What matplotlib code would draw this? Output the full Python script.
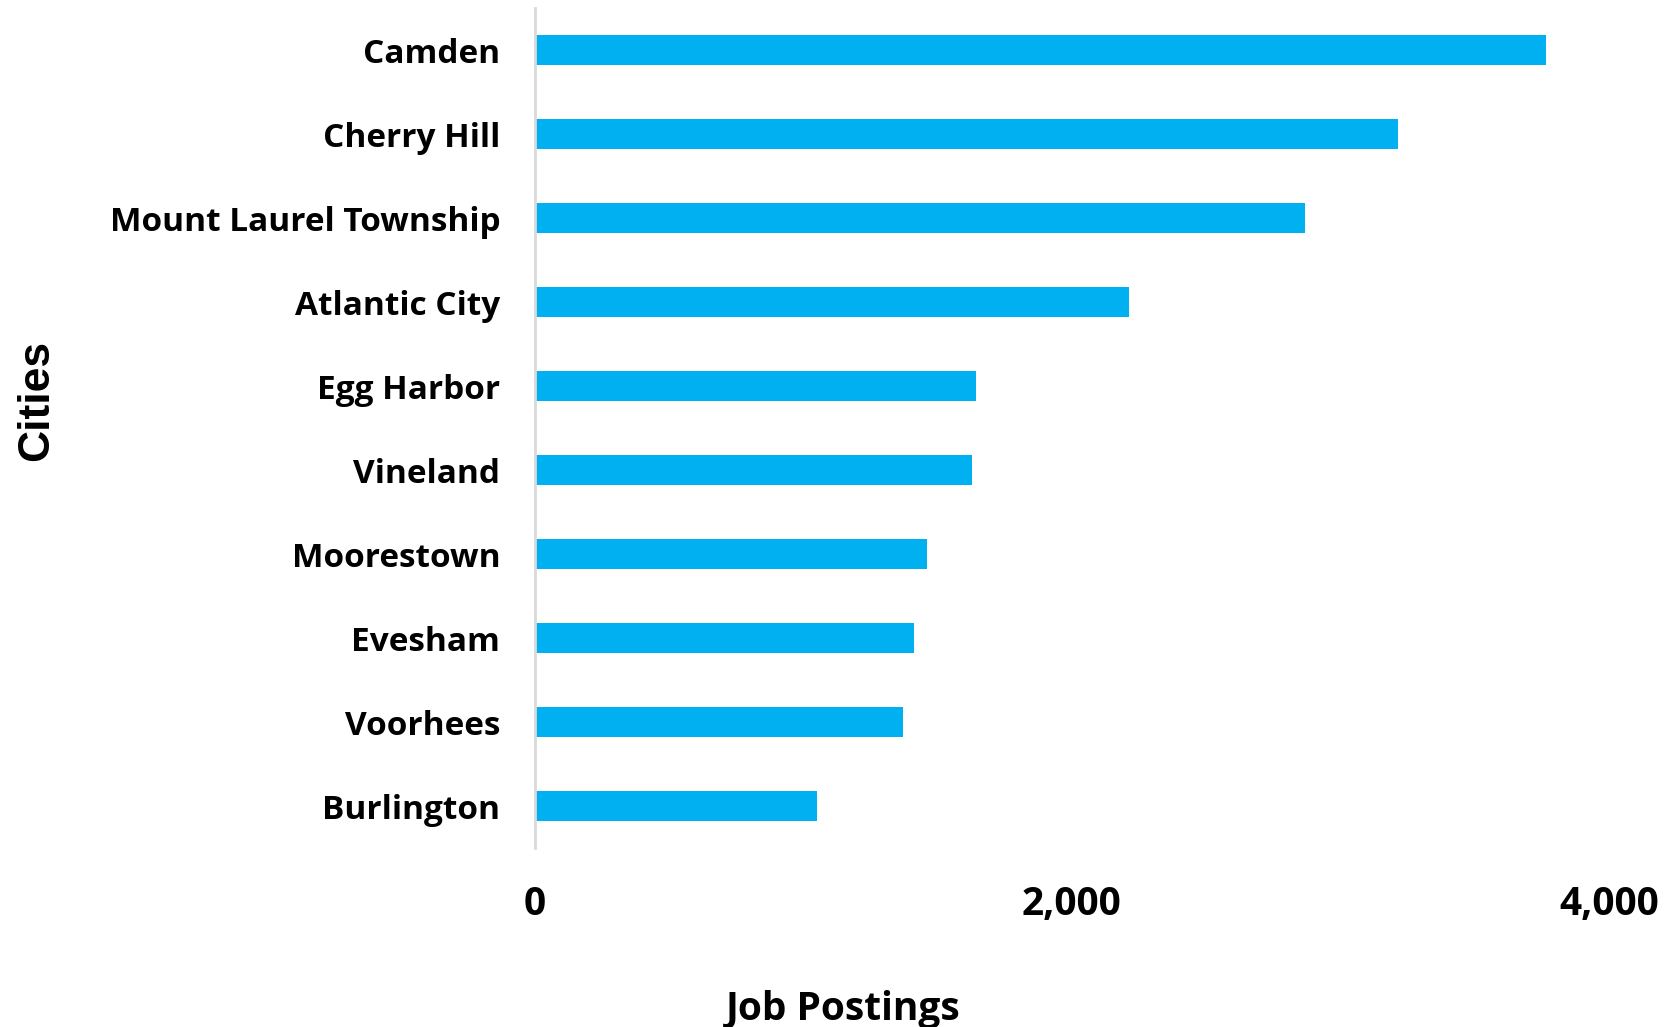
import matplotlib
matplotlib.use("Agg")
import matplotlib.pyplot as plt
from matplotlib.ticker import FuncFormatter

# Data
cities = ["Camden", "Cherry Hill", "Mount Laurel Township", "Atlantic City",
          "Egg Harbor", "Vineland", "Moorestown", "Evesham", "Voorhees",
          "Burlington"]
postings = [3766, 3216, 2867, 2212, 1642, 1626, 1459, 1410, 1371, 1052]
x_ticks = [0, 2000, 4000]

plt.rcParams['font.family'] = ['Open Sans', 'DejaVu Sans']

fig = plt.figure(figsize=(16.68, 10.27), dpi=100)
ax = fig.add_axes([0.3207, 0.1743, 0.6439, 0.8177])

ypos = list(range(len(cities)))
ax.barh(ypos, postings, height=0.36, color='#00b0f0')

ax.set_xlim(0, 4000)
ax.set_ylim(len(cities) - 0.5, -0.5)
ax.set_yticks(ypos)
ax.set_yticklabels(cities, fontsize=24, fontweight='bold')
ax.set_xticks(x_ticks)
ax.xaxis.set_major_formatter(FuncFormatter(lambda v, p: f"{int(v):,}"))
for lab in ax.get_xticklabels():
    lab.set_fontsize(28)
    lab.set_fontweight('bold')

ax.tick_params(axis='y', length=0, pad=25)
ax.tick_params(axis='x', length=0, pad=27)

for s in ['top', 'right', 'bottom']:
    ax.spines[s].set_visible(False)
ax.spines['left'].set_color('#d9d9d9')
ax.spines['left'].set_linewidth(2)

fig.text(0.5054, 0.017, "Job Postings", ha='center', va='center',
         fontsize=28, fontweight='bold')
fig.text(0.022, 0.61, "Cities", ha='center', va='center', rotation=90,
         fontsize=32, fontweight='bold', family='Liberation Sans')

fig.savefig("out.png", dpi=100)
